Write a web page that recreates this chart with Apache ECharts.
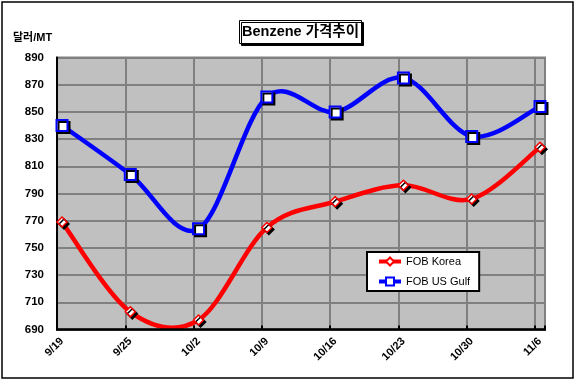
<!DOCTYPE html>
<html><head><meta charset="utf-8">
<script src="https://cdn.jsdelivr.net/npm/echarts@6/dist/echarts.min.js"></script>
<style>html,body{margin:0;padding:0;background:#fff}#c{width:579px;height:381px;}</style>
</head><body><div id="c"></div>
<script>
const categories = ['9/19','9/25','10/2','10/9','10/16','10/23','10/30','11/6'];
const fobKorea = [769, 703, 697, 765, 784, 796, 786, 824];
const fobUSGulf = [840, 804, 764, 861, 850, 875, 832, 854];
const yMin = 690, yMax = 890, yStep = 20;

const FF = '"Liberation Sans", Arial, "Noto Sans CJK KR", sans-serif';
const chart = echarts.init(document.getElementById('c'), null, {renderer:'canvas'});

// Excel-like (Catmull-Rom) smoothed line drawn from the data through the axes
function smoothSeries(values, color) {
  return {
    type: 'custom', xAxisIndex: 1, yAxisIndex: 1, z: 2, silent: true,
    data: values.map((v, i) => [i, v]),
    renderItem: function (params, api) {
      const i = params.dataIndex;
      if (i >= values.length - 1) return null;
      const n = values.length;
      const P = k => { const j = Math.max(0, Math.min(n - 1, k)); return api.coord([j, values[j]]); };
      const p0 = P(i - 1), p1 = P(i), p2 = P(i + 1), p3 = P(i + 2);
      return {
        type: 'bezierCurve',
        shape: {
          x1: p1[0], y1: p1[1], x2: p2[0], y2: p2[1],
          cpx1: p1[0] + (p2[0] - p0[0]) / 6, cpy1: p1[1] + (p2[1] - p0[1]) / 6,
          cpx2: p2[0] - (p3[0] - p1[0]) / 6, cpy2: p2[1] - (p3[1] - p1[1]) / 6
        },
        style: {stroke: color, lineWidth: 4.5, fill: null, lineCap: 'round'}
      };
    }
  };
}

chart.setOption({
  animation: false,
  backgroundColor: '#fff',
  title: [
    {text: 'Benzene 가격추이', left: 239, top: 20,
     backgroundColor: '#fff', borderColor: '#000', borderWidth: 1,
     shadowColor: '#000', shadowOffsetX: 2, shadowOffsetY: 2, shadowBlur: 0,
     padding: [5, 3, 4, 3],
     textStyle: {fontFamily: FF, fontSize: 14.5, fontWeight: 'bold', color: '#000'}},
    {text: '달러/MT', left: 13, top: 32,
     padding: 0,
     textStyle: {fontFamily: FF, fontSize: 11, fontWeight: 'bold', color: '#000'}}
  ],
  legend: {
    orient: 'vertical', left: 367, top: 252,
    backgroundColor: '#fff', borderColor: '#000', borderWidth: 2,
    padding: [4, 9, 4, 10],
    itemWidth: 22, itemHeight: 10, itemGap: 9,
    textStyle: {fontFamily: FF, fontSize: 11, color: '#000'},
    data: [
      {name: 'FOB Korea', lineStyle: {opacity: 1, width: 4}},
      {name: 'FOB US Gulf', lineStyle: {opacity: 1, width: 4}}
    ]
  },
  grid: [
    {left: 57, right: 34, top: 57.5, bottom: 51.5, show: true,
     backgroundColor: '#C0C0C0', borderColor: '#808080', borderWidth: 2, z: 0},
    {left: 62, right: 39, top: 57.5, bottom: 51.5}
  ],
  xAxis: [
    {gridIndex: 0, type: 'value', min: 0, max: 7.15, interval: 1,
     axisLine: {show: false}, axisLabel: {show: false},
     axisTick: {show: true, inside: true, length: 4, lineStyle: {color: '#000', width: 2}},
     splitLine: {show: true, lineStyle: {color: '#808080', width: 2}}},
    {gridIndex: 1, type: 'category', data: categories, boundaryGap: false,
     axisLine: {show: false}, axisTick: {show: false}, splitLine: {show: false},
     axisLabel: {rotate: 45, margin: 10, fontFamily: FF, fontSize: 11, fontWeight: 'bold', color: '#000',
       showMinLabel: true, showMaxLabel: true, interval: 0}}
  ],
  yAxis: [
    {gridIndex: 0, type: 'value', min: yMin, max: yMax, interval: yStep,
     axisLine: {show: true, lineStyle: {color: '#000', width: 2}},
     axisTick: {show: false},
     splitLine: {show: true, lineStyle: {color: '#808080', width: 2}},
     axisLabel: {margin: 13, fontFamily: FF, fontSize: 11.5, fontWeight: 'bold', color: '#000'}},
    {gridIndex: 1, type: 'value', min: yMin, max: yMax, interval: yStep, show: false,
     splitLine: {show: false}}
  ],
  graphic: [
    {type: 'line', shape: {x1: 56, y1: 329.5, x2: 546, y2: 329.5},
     style: {stroke: '#000', lineWidth: 2.5}, z: 50},
    {type: 'rect', shape: {x: 2, y: 2, width: 571, height: 376},
     style: {fill: 'none', stroke: '#000', lineWidth: 1.5}, z: 50}
  ],
  series: [
    smoothSeries(fobKorea, '#FF0000'),
    smoothSeries(fobUSGulf, '#0000FF'),
    {name: 'FOB Korea', type: 'line', xAxisIndex: 1, yAxisIndex: 1, data: fobKorea,
     symbol: 'diamond', symbolSize: 10, z: 3,
     lineStyle: {color: '#FF0000', width: 4.5, opacity: 0},
     itemStyle: {color: '#fff', borderColor: '#FF0000', borderWidth: 1.5,
       shadowColor: '#000', shadowOffsetX: 2, shadowOffsetY: 2, shadowBlur: 0}},
    {name: 'FOB US Gulf', type: 'line', xAxisIndex: 1, yAxisIndex: 1, data: fobUSGulf,
     symbol: 'rect', symbolSize: 11, z: 3,
     lineStyle: {color: '#0000FF', width: 4.5, opacity: 0},
     itemStyle: {color: '#fff', borderColor: '#0000FF', borderWidth: 2,
       shadowColor: '#000', shadowOffsetX: 2, shadowOffsetY: 2, shadowBlur: 0}}
  ]
});
</script></body></html>
